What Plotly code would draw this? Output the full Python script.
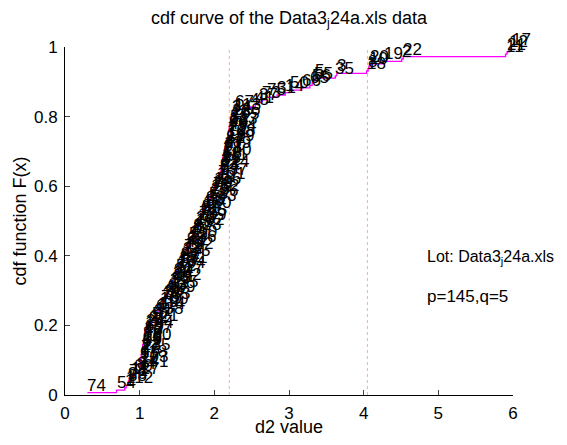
import plotly.graph_objects as go

# sorted d2 values
d2_sorted = [
    0.30, 0.69, 0.80, 0.82, 0.84, 0.85, 0.86, 0.88, 0.93, 0.97,
    1.00, 1.00, 1.01, 1.01, 1.01, 1.02, 1.02, 1.03, 1.03, 1.04,
    1.04, 1.05, 1.05, 1.06, 1.06, 1.07, 1.07, 1.09, 1.12, 1.14,
    1.16, 1.19, 1.21, 1.22, 1.24, 1.26, 1.27, 1.29, 1.30, 1.32,
    1.35, 1.36, 1.38, 1.40, 1.41, 1.43, 1.44, 1.45, 1.46, 1.48,
    1.49, 1.50, 1.51, 1.53, 1.54, 1.56, 1.57, 1.58, 1.60, 1.61,
    1.62, 1.64, 1.65, 1.66, 1.68, 1.69, 1.71, 1.72, 1.73, 1.75,
    1.76, 1.78, 1.79, 1.81, 1.82, 1.84, 1.85, 1.87, 1.89, 1.91,
    1.93, 1.94, 1.95, 1.96, 1.98, 1.99, 2.00, 2.02, 2.03, 2.05,
    2.06, 2.07, 2.08, 2.09, 2.09, 2.10, 2.10, 2.11, 2.11, 2.12,
    2.13, 2.13, 2.14, 2.15, 2.16, 2.17, 2.17, 2.18, 2.18, 2.19,
    2.20, 2.20, 2.21, 2.22, 2.23, 2.23, 2.24, 2.26, 2.28, 2.48,
    2.55, 2.60, 2.64, 2.70, 2.84, 2.95, 3.01, 3.17, 3.28, 3.31,
    3.33, 3.35, 3.62, 3.64, 4.04, 4.06, 4.07, 4.09, 4.27, 4.51,
    4.53, 5.90, 5.92, 5.95, 5.98,
]

# index of each sorted sample (the number written at each point)
point_ids = [
    74, 54, 1, 112, 38, 96, 71, 127, 60, 84,
    141, 27, 103, 9, 118, 46, 77, 135, 62, 99,
    15, 130, 88, 43, 107, 69, 144, 24, 92, 121,
    57, 81, 138, 6, 114, 49, 100, 78, 133, 30,
    86, 109, 63, 125, 39, 95, 142, 26, 80, 117,
    52, 104, 13, 131, 68, 91, 145, 33, 79, 122,
    44, 98, 136, 59, 110, 4, 87, 128, 48, 102,
    29, 139, 76, 115, 61, 94, 120, 36, 83, 143,
    53, 106, 25, 132, 70, 89, 116, 42, 101, 7,
    137, 64, 93, 124, 32, 85, 111, 58, 140, 28,
    97, 119, 47, 82, 129, 16, 108, 72, 134, 40,
    90, 123, 51, 105, 23, 126, 34, 113, 67, 45,
    41, 37, 73, 75, 31, 14, 50, 66, 65, 56,
    55, 5, 35, 3, 18, 8, 10, 20, 19, 2,
    22, 11, 21, 12, 17,
]

limit_lines = [2.2, 4.05]
x_ticks = [0, 1, 2, 3, 4, 5, 6]
y_ticks = [0, 0.2, 0.4, 0.6, 0.8, 1]

n = len(d2_sorted)
cdf_vals = [(i + 1) / n for i in range(n)]

FONT = "Liberation Sans, Arial, sans-serif"

fig = go.Figure()

for xv in limit_lines:
    fig.add_trace(go.Scatter(
        x=[xv, xv], y=[0, 1], mode="lines",
        line=dict(color="rgba(255,60,60,0.45)", width=1, dash="dot"),
        hoverinfo="skip", showlegend=False))

fig.add_trace(go.Scatter(
    x=d2_sorted, y=cdf_vals, mode="lines", line_shape="hv",
    line=dict(color="#ff00ff", width=1.3), showlegend=False))

annotations = []
for xv, yv, lab in zip(d2_sorted, cdf_vals, point_ids):
    annotations.append(dict(
        x=xv, y=yv, xref="x", yref="y", text=str(lab), showarrow=False,
        xanchor="left", yanchor="bottom", xshift=-2, yshift=-4,
        font=dict(family=FONT, size=17, color="black")))

annotations.append(dict(
    x=4.82, y=0.394, xref="x", yref="y", text="Lot: Data3<sub>j</sub>24a.xls",
    showarrow=False, xanchor="left", yanchor="middle",
    font=dict(family=FONT, size=16, color="black")))
annotations.append(dict(
    x=4.82, y=0.284, xref="x", yref="y", text="p=145,q=5",
    showarrow=False, xanchor="left", yanchor="middle",
    font=dict(family=FONT, size=17, color="black")))

# the page body adds an 8px margin: figure is sized so that the plot
# area lands at x 65..513, y 47..395 in the 567x445 window
fig.update_layout(
    width=551, height=429,
    margin=dict(l=57, r=46, t=39, b=42, autoexpand=False),
    paper_bgcolor="white", plot_bgcolor="white",
    font=dict(family=FONT, size=17, color="black"),
    title=dict(text="cdf curve of the Data3<sub>j</sub>24a.xls data",
               x=0.5, xanchor="center", y=1.0, yanchor="top",
               xref="paper", pad=dict(t=3),
               font=dict(family=FONT, size=18, color="black")),
    annotations=annotations,
    xaxis=dict(range=[0, 6], tickvals=x_ticks, ticks="inside", ticklen=5,
               showline=True, linecolor="black", linewidth=1,
               showgrid=False, zeroline=False, mirror=False,
               automargin=False, ticklabelstandoff=3,
               tickfont=dict(family=FONT, size=17),
               title=dict(text="d2 value", standoff=4,
                          font=dict(family=FONT, size=18))),
    yaxis=dict(range=[0, 1], tickvals=y_ticks,
               ticktext=["0", "0.2", "0.4", "0.6", "0.8", "1"],
               ticks="inside", ticklen=5,
               showline=True, linecolor="black", linewidth=1,
               showgrid=False, zeroline=False, mirror=False,
               automargin=False, ticklabelstandoff=3,
               tickfont=dict(family=FONT, size=17),
               title=dict(text="cdf function F(x)", standoff=2,
                          font=dict(family=FONT, size=18))),
)

fig.write_html("out.html")
